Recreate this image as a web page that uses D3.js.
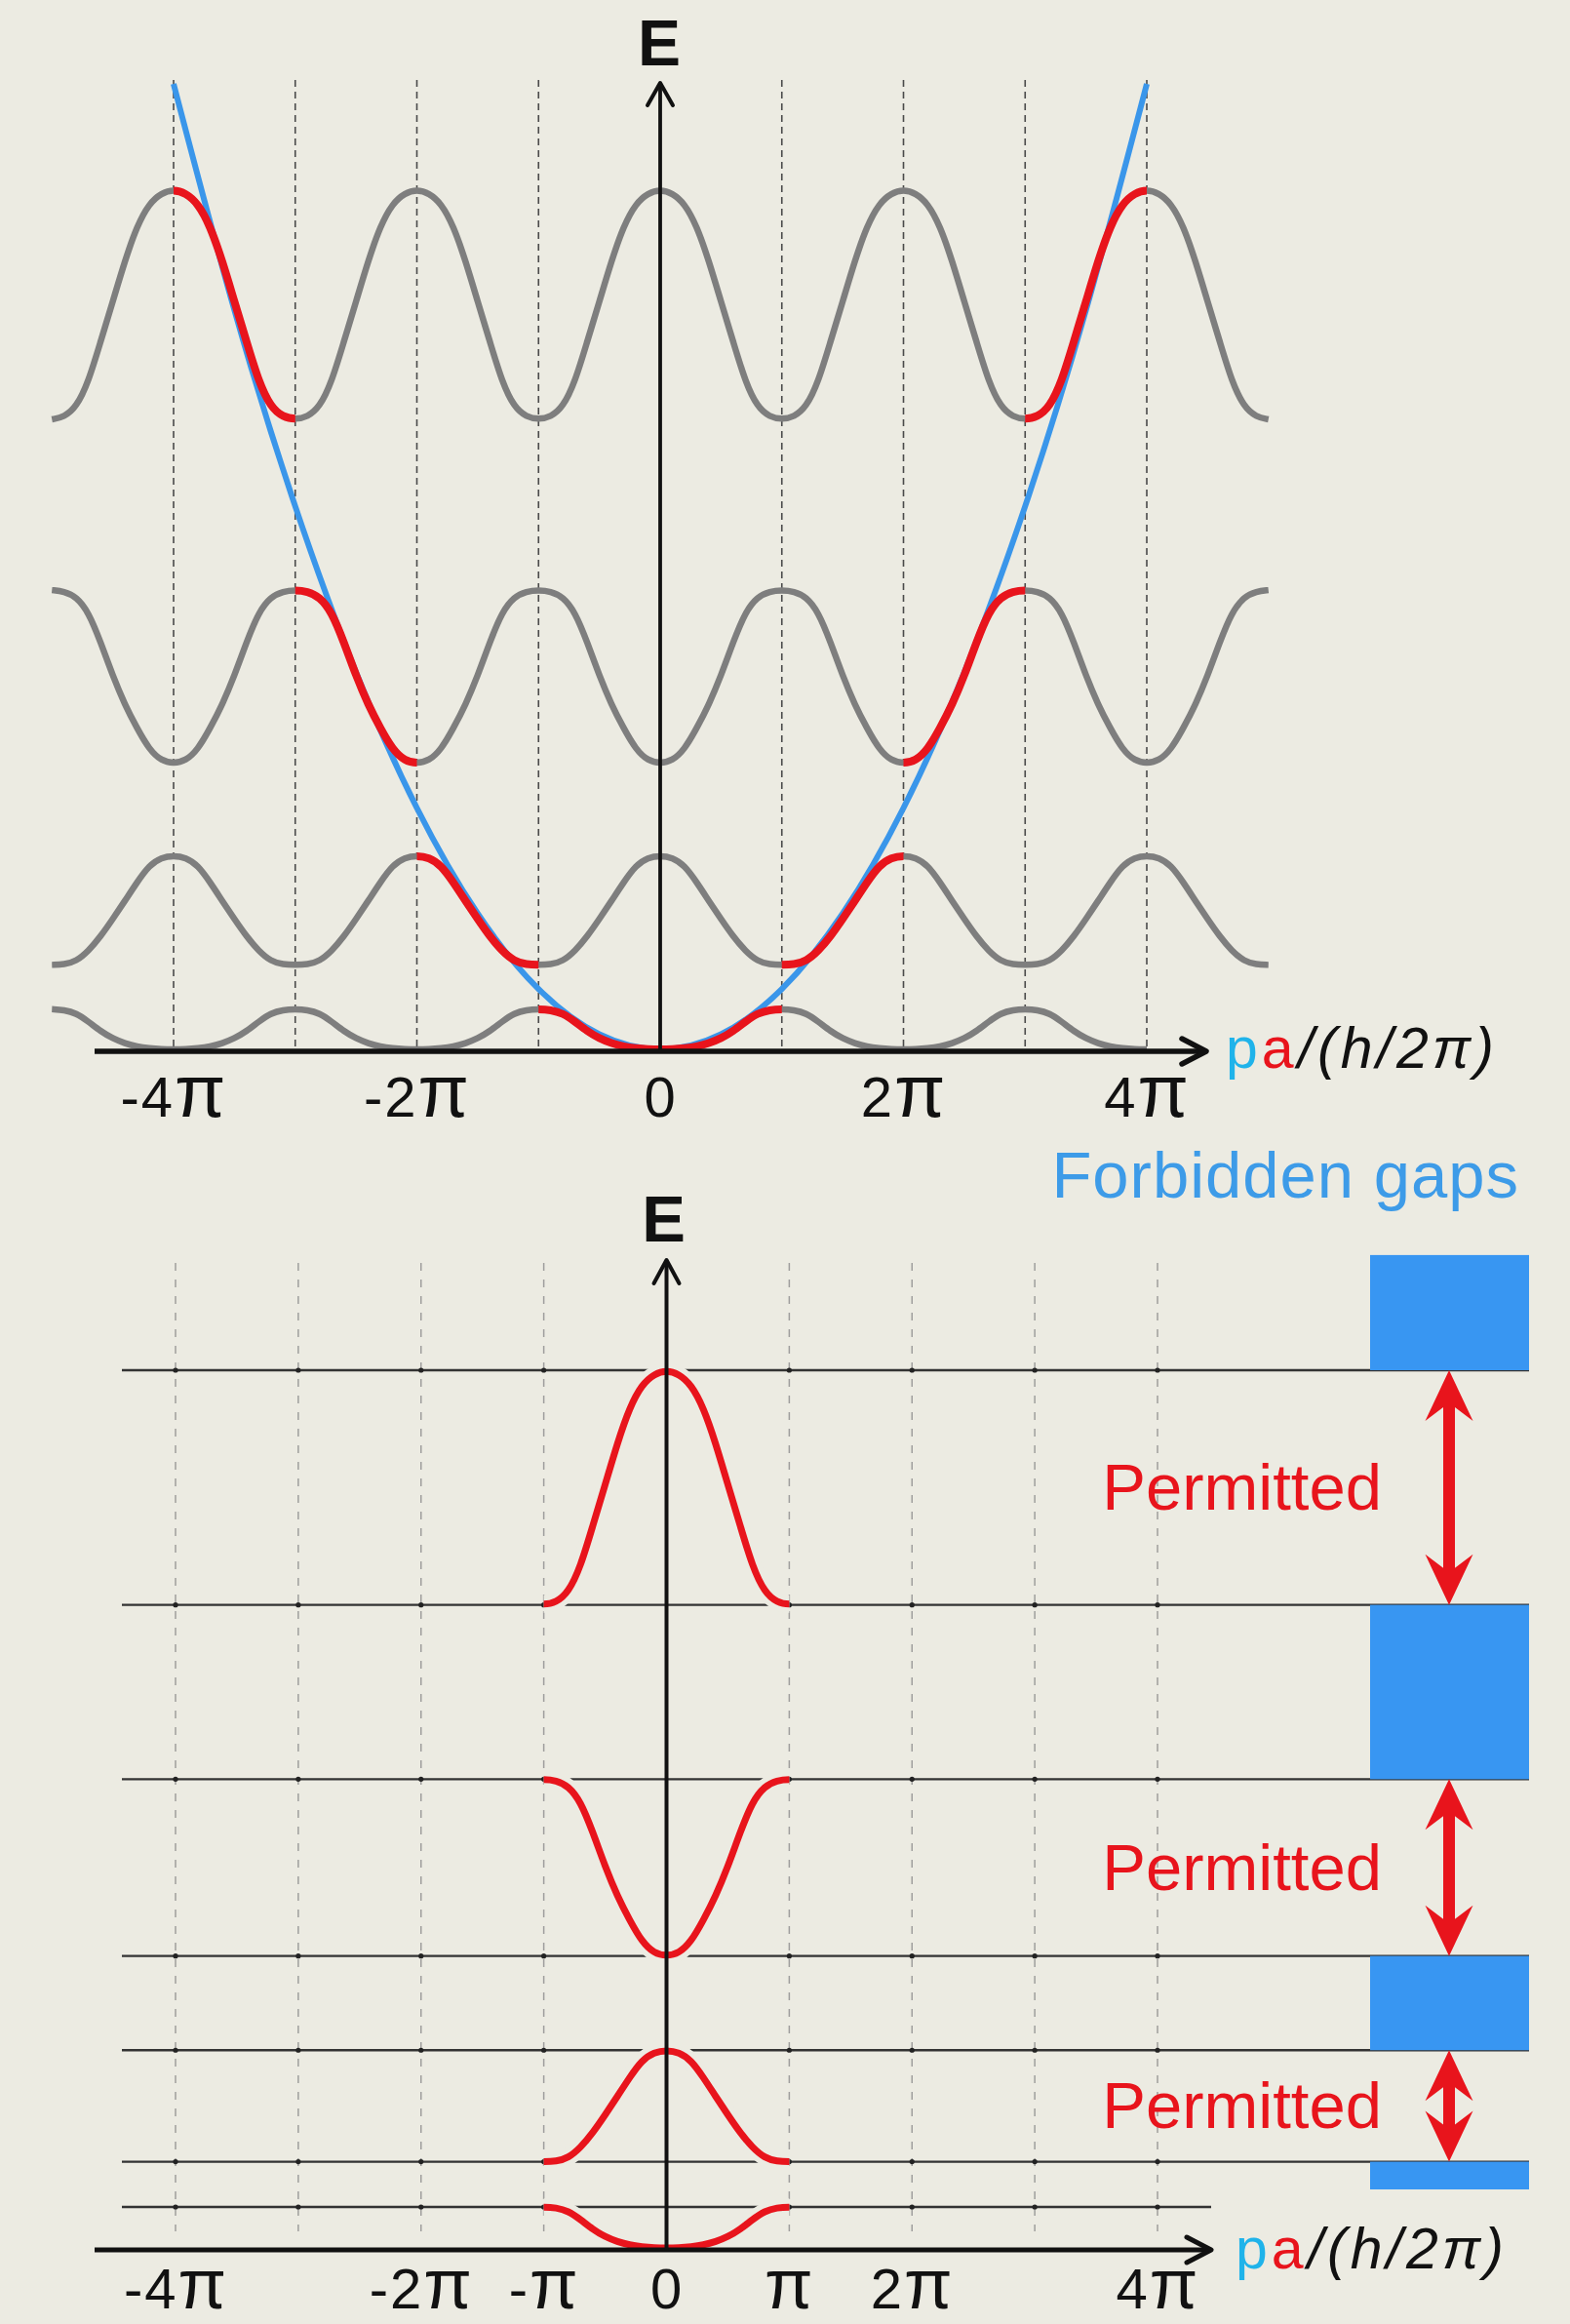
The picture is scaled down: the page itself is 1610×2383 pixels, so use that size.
<!DOCTYPE html>
<html>
<head>
<meta charset="utf-8">
<script src="https://cdn.jsdelivr.net/npm/d3@7"></script>
<style>
  html, body { margin: 0; padding: 0; background: #ecebe2; }
  svg { display: block; }
  text { font-family: "Liberation Sans", Arial, sans-serif; }
</style>
</head>
<body>
<svg id="chart" width="1610" height="2383"></svg>
<script>
// ---- Data ---------------------------------------------------------------
// Energies in units where the free-electron parabola is E = (k/π)².
// Each band is sampled at u = 0, 0.1, …, 1 across its own (extended) zone:
// u = 0 at |k| = (n-1)π and u = 1 at |k| = nπ.
const bandU  = [0, 0.1, 0.2, 0.3, 0.4, 0.5, 0.6, 0.7, 0.8, 0.9, 1];
const band1E = [0, 0.004, 0.02, 0.046, 0.10, 0.18, 0.30, 0.46, 0.60, 0.655, 0.665];
const band2E = [1.40, 1.405, 1.46, 1.63, 1.87, 2.16, 2.46, 2.77, 3.05, 3.18, 3.21];
const band3E = [4.74, 4.78, 4.97, 5.32, 5.71, 6.19, 6.75, 7.25, 7.50, 7.59, 7.61];
const band4E = [10.44, 10.48, 10.64, 11.06, 11.73, 12.39, 13.07, 13.65, 14.02, 14.19, 14.25];
const bands = [band1E, band2E, band3E, band4E];

// k/π range over which each band is repeated in the periodic (grey) plot
const bandRepeatRange = [[-5, 4], [-5, 5], [-5, 5], [-5, 5]];

// Free-electron parabola, k/π and E
const freeK = [-4, -3.5, -3, -2.5, -2, -1.5, -1, -0.5, 0, 0.5, 1, 1.5, 2, 2.5, 3, 3.5, 4];
const freeE = [16, 12.25, 9, 6.25, 4, 2.25, 1, 0.25, 0, 0.25, 1, 2.25, 4, 6.25, 9, 12.25, 16];

// Grid lines at multiples of π
const gridK = [-4, -3, -2, -1, 1, 2, 3, 4];

// Tick labels
const topTicks = [-4, -2, 0, 2, 4];
const topTickLabels = ["-4π", "-2π", "0", "2π", "4π"];
const bottomTicks = [-4, -2, -1, 0, 1, 2, 4];
const bottomTickLabels = ["-4π", "-2π", "-π", "0", "π", "2π", "4π"];

// Forbidden gaps (blue bars) and permitted bands (red arrows), E ranges
const gapRanges = [[14.25, 16.12], [7.61, 10.44], [3.21, 4.74], [0.95, 1.40]];
const permittedRanges = [[10.44, 14.25], [4.74, 7.61], [1.40, 3.21]];

// ---- Layout ---------------------------------------------------------------
const C = {
  bg: "#ecebe2",
  grey: "#7e7e7e",
  red: "#e8141c",
  blue: "#3a96ea",
  gapBlue: "#3896f2",
  cyan: "#1fb3ea",
  ink: "#111"
};

const svg = d3.select("#chart");
svg.append("rect").attr("width", 1610).attr("height", 2383).attr("fill", C.bg);
const defs = svg.append("defs");

const xTop = d3.scaleLinear().domain([-4, 4]).range([178, 1176]);
const yTop = d3.scaleLinear().domain([0, 16]).range([1076, 86]);
const xBot = d3.scaleLinear().domain([-4, 4]).range([180, 1187]);
const yBot = d3.scaleLinear().domain([0, 14.25]).range([2305, 1405]);

const upper = { axisY: 1078, axisX0: 97, axisX1: 1237, eTip: 85, gridTop: 82 };
const lower = { axisY: 2307, axisX0: 97, axisX1: 1242, eTip: 1292, gridTop: 1295, gridBottom: 2288,
                hx0: 125, hx1: 1568, shortX1: 1242 };
const gapX0 = 1405, gapX1 = 1568, arrowX = 1486;

// ---- Node builder ------------------------------------------------------------
// Band n repeated with period 2π (each zone folded out from the reduced zone)
function repeatedNodes(b, k0, k1) {
  const odd = (b % 2 === 0); // index 0 is band 1
  const pts = [];
  for (let j = k0; j < k1; j++) {
    const even = ((j % 2) + 2) % 2 === 0;
    for (let i = (j === k0 ? 0 : 1); i <= 10; i++) {
      const ri = even ? i : 10 - i;
      const ui = odd ? ri : 10 - ri;
      pts.push([j + bandU[i], bands[b][ui]]);
    }
  }
  return pts;
}

const smooth = d3.curveBasis;
const lineTop = d3.line().x(d => xTop(d[0])).y(d => yTop(d[1])).curve(smooth);
const lineBot = d3.line().x(d => xBot(d[0])).y(d => yBot(d[1])).curve(smooth);
const lineFree = d3.line().x((d, i) => xTop(freeK[i])).y((d, i) => yTop(freeE[i])).curve(d3.curveNatural);

function chevron(g, pts, w) {
  g.append("path")
    .attr("d", d3.line()(pts))
    .attr("fill", "none").attr("stroke", C.ink).attr("stroke-width", w)
    .attr("stroke-linejoin", "round").attr("stroke-linecap", "round");
}

function tickLabels(g, scale, values, labels, yOff, size, piSize) {
  const axis = d3.axisBottom(scale).tickValues(values).tickSize(0)
    .tickFormat((d, i) => labels[i]);
  g.call(axis);
  g.select(".domain").remove();
  g.attr("font-family", "'Liberation Sans', Arial, sans-serif").attr("font-size", size);
  g.selectAll(".tick text").each(function (d, i) {
    const t = d3.select(this);
    const s = labels[i];
    t.text(null).attr("y", yOff).attr("dy", null).attr("fill", C.ink)
      .attr("letter-spacing", 2);
    const parts = s.split("π");
    if (parts[0]) t.append("tspan").text(parts[0]);
    if (s.includes("π")) t.append("tspan").attr("font-size", piSize).text("π");
  });
}

function axisTitle(x, y, size) {
  const t = svg.append("text").attr("x", x).attr("y", y)
    .attr("font-size", size).attr("letter-spacing", 4).attr("fill", C.ink);
  t.append("tspan").attr("fill", C.cyan).text("p");
  t.append("tspan").attr("fill", C.red).text("a");
  t.append("tspan").attr("font-style", "italic").text("/(");
  t.append("tspan").attr("font-style", "italic").text("h");
  t.append("tspan").attr("font-style", "italic").text("/2");
  t.append("tspan").attr("font-style", "italic").text("π");
  t.append("tspan").attr("font-style", "italic").text(")");
}

// ---- Clip regions: each band's own zone ---------------------------------------
bands.forEach((_, b) => {
  const n = b + 1;
  const cp = defs.append("clipPath").attr("id", `zoneTop${n}`);
  const zones = n === 1 ? [[-1, 1]] : [[-n, -(n - 1)], [n - 1, n]];
  zones.forEach(z => cp.append("rect")
    .attr("x", xTop(z[0])).attr("width", xTop(z[1]) - xTop(z[0]))
    .attr("y", 0).attr("height", 1190));
});
defs.append("clipPath").attr("id", "zoneBottom").append("rect")
  .attr("x", xBot(-1)).attr("width", xBot(1) - xBot(-1))
  .attr("y", 1190).attr("height", 1193);

// ============ Upper panel: extended / repeated zone =========================
const gT = svg.append("g");

// dashed verticals at multiples of π
gT.selectAll("line.grid").data(gridK).enter().append("line")
  .attr("x1", d => xTop(d)).attr("x2", d => xTop(d))
  .attr("y1", upper.gridTop).attr("y2", upper.axisY)
  .attr("stroke", "#4a4a4a").attr("stroke-width", 1.6)
  .attr("stroke-dasharray", "7,5");

// repeated bands (grey)
bands.forEach((_, b) => {
  const [k0, k1] = bandRepeatRange[b];
  gT.append("path").attr("d", lineTop(repeatedNodes(b, k0, k1)))
    .attr("fill", "none").attr("stroke", C.grey).attr("stroke-width", 6.5);
});

// free-electron parabola
gT.append("path").attr("d", lineFree(freeK))
  .attr("fill", "none").attr("stroke", C.blue).attr("stroke-width", 6);

// bands in the extended zone (red)
bands.forEach((_, b) => {
  const [k0, k1] = bandRepeatRange[b];
  gT.append("path").attr("d", lineTop(repeatedNodes(b, k0, k1)))
    .attr("clip-path", `url(#zoneTop${b + 1})`)
    .attr("fill", "none").attr("stroke", C.red).attr("stroke-width", 8);
});

// axes
gT.append("line").attr("x1", upper.axisX0).attr("x2", upper.axisX1 - 2)
  .attr("y1", upper.axisY).attr("y2", upper.axisY)
  .attr("stroke", C.ink).attr("stroke-width", 5.5);
chevron(gT, [[upper.axisX1 - 25, upper.axisY - 13], [upper.axisX1, upper.axisY], [upper.axisX1 - 25, upper.axisY + 13]], 5.5);
gT.append("line").attr("x1", xTop(0)).attr("x2", xTop(0))
  .attr("y1", upper.axisY).attr("y2", upper.eTip + 2)
  .attr("stroke", C.ink).attr("stroke-width", 3.8);
chevron(gT, [[xTop(0) - 13, upper.eTip + 23], [xTop(0), upper.eTip], [xTop(0) + 13, upper.eTip + 23]], 4);

gT.append("text").attr("x", xTop(0) - 1).attr("y", 67).attr("text-anchor", "middle")
  .attr("font-size", 66).attr("font-weight", "bold").attr("fill", C.ink).text("E");

tickLabels(gT.append("g").attr("transform", `translate(0,${upper.axisY})`),
  xTop, topTicks, topTickLabels, 67, 58, 76);
axisTitle(1257, 1095, 59);

// ============ Lower panel: reduced zone ====================================
const gB = svg.append("g");

gB.selectAll("line.grid").data(gridK).enter().append("line")
  .attr("x1", d => xBot(d)).attr("x2", d => xBot(d))
  .attr("y1", lower.gridTop).attr("y2", lower.gridBottom)
  .attr("stroke", "#8c8c8c").attr("stroke-width", 1.5)
  .attr("stroke-dasharray", "8,9").attr("opacity", 0.8);

// band-edge levels
const edgeLevels = [];
bands.forEach((arr, b) => {
  edgeLevels.push({ E: d3.min(arr), short: false });
  edgeLevels.push({ E: d3.max(arr), short: b === 0 });
});
const levels = edgeLevels.filter(d => d.E > 0);

gB.selectAll("line.level").data(levels).enter().append("line")
  .attr("x1", lower.hx0).attr("x2", d => d.short ? lower.shortX1 : lower.hx1)
  .attr("y1", d => yBot(d.E)).attr("y2", d => yBot(d.E))
  .attr("stroke", "#333").attr("stroke-width", 2.3);

levels.forEach(lv => {
  gB.selectAll(null).data(gridK).enter().append("circle")
    .attr("cx", d => xBot(d)).attr("cy", yBot(lv.E)).attr("r", 2.6)
    .attr("fill", "#222");
});

// forbidden gaps
gB.selectAll("rect.gap").data(gapRanges).enter().append("rect")
  .attr("x", gapX0).attr("width", gapX1 - gapX0)
  .attr("y", d => yBot(d[1])).attr("height", d => yBot(d[0]) - yBot(d[1]))
  .attr("fill", C.gapBlue);

// reduced-zone bands (with a background-coloured underlay)
bands.forEach((_, b) => {
  gB.append("path").attr("d", lineBot(repeatedNodes(b, -2, 2)))
    .attr("clip-path", "url(#zoneBottom)").attr("fill", "none")
    .attr("stroke", C.bg).attr("stroke-width", 18);
});
bands.forEach((_, b) => {
  gB.append("path").attr("d", lineBot(repeatedNodes(b, -2, 2)))
    .attr("clip-path", "url(#zoneBottom)").attr("fill", "none")
    .attr("stroke", C.red).attr("stroke-width", 7);
});

// axes
gB.append("line").attr("x1", lower.axisX0).attr("x2", lower.axisX1 - 2)
  .attr("y1", lower.axisY).attr("y2", lower.axisY)
  .attr("stroke", C.ink).attr("stroke-width", 5);
chevron(gB, [[lower.axisX1 - 25, lower.axisY - 13], [lower.axisX1, lower.axisY], [lower.axisX1 - 25, lower.axisY + 13]], 5);
gB.append("line").attr("x1", xBot(0)).attr("x2", xBot(0))
  .attr("y1", lower.axisY).attr("y2", lower.eTip + 2)
  .attr("stroke", C.ink).attr("stroke-width", 4);
chevron(gB, [[xBot(0) - 13, lower.eTip + 24], [xBot(0), lower.eTip], [xBot(0) + 13, lower.eTip + 24]], 4);

gB.append("text").attr("x", xBot(0) - 3).attr("y", 1273).attr("text-anchor", "middle")
  .attr("font-size", 67).attr("font-weight", "bold").attr("fill", C.ink).text("E");

tickLabels(gB.append("g").attr("transform", `translate(0,${lower.axisY})`),
  xBot, bottomTicks, bottomTickLabels, 60, 58, 72);
axisTitle(1267, 2326, 59);

// permitted arrows
function doubleArrow(x, yA, yB) {
  const hw = 6, bw = 24.5, L = 52, n = 38;
  return `M${x},${yA} L${x + bw},${yA + L} L${x + hw},${yA + n} L${x + hw},${yB - n}` +
         ` L${x + bw},${yB - L} L${x},${yB} L${x - bw},${yB - L} L${x - hw},${yB - n}` +
         ` L${x - hw},${yA + n} L${x - bw},${yA + L} Z`;
}
gB.selectAll("path.permit").data(permittedRanges).enter().append("path")
  .attr("d", d => doubleArrow(arrowX, yBot(d[1]), yBot(d[0])))
  .attr("fill", C.red);

gB.selectAll("text.permit").data(permittedRanges).enter().append("text")
  .attr("x", 1417).attr("y", d => (yBot(d[0]) + yBot(d[1])) / 2 + 23)
  .attr("text-anchor", "end").attr("font-size", 67).attr("fill", C.red)
  .text("Permitted");

gB.append("text").attr("x", 1558).attr("y", 1228).attr("text-anchor", "end")
  .attr("font-size", 67).attr("letter-spacing", 1).attr("fill", "#3d9be8")
  .text("Forbidden gaps");
</script>
</body>
</html>
